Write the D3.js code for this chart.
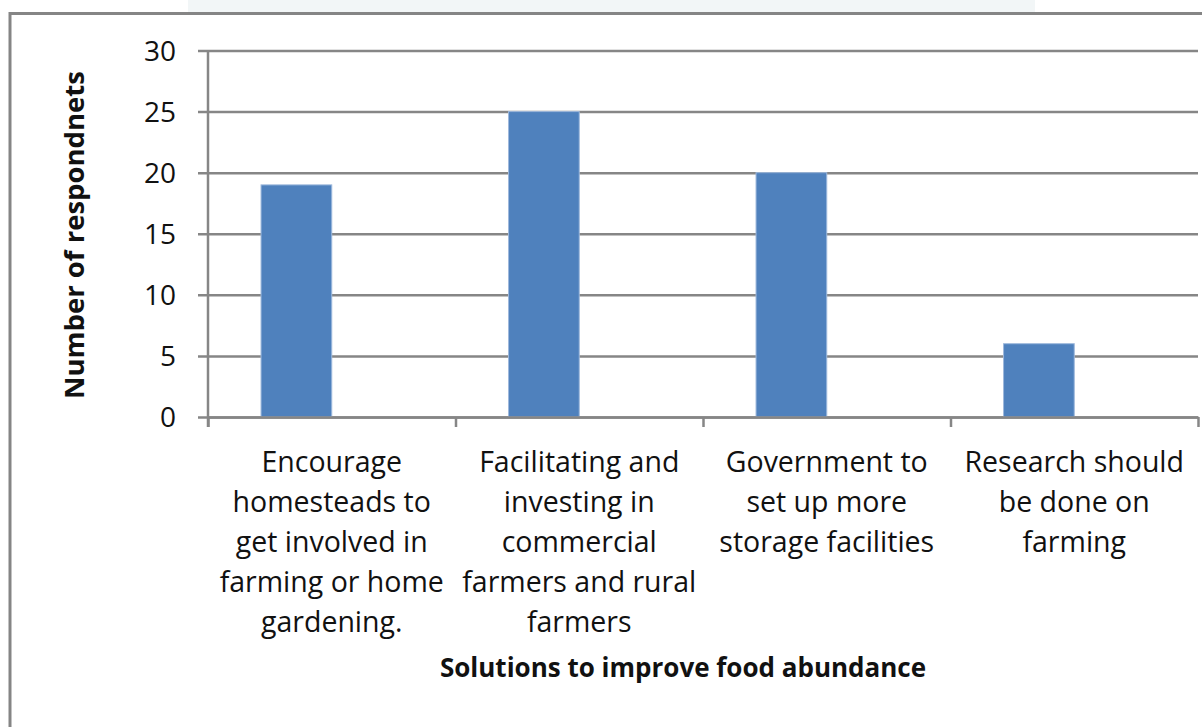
<!DOCTYPE html>
<html>
<head>
<meta charset="utf-8">
<script src="https://cdn.jsdelivr.net/npm/d3@7"></script>
<style>
  html, body { margin: 0; padding: 0; background: #fff; }
  svg { display: block; }
  text { font-family: "Open Sans", Lato, sans-serif; fill: #111; }
</style>
</head>
<body>
<script>
// Survey responses: suggested solutions to improve food abundance
const categories = [
  ["Encourage", "homesteads to", "get involved in", "farming or home", "gardening."],
  ["Facilitating and", "investing in", "commercial", "farmers and rural", "farmers"],
  ["Government to", "set up more", "storage facilities"],
  ["Research should", "be done on", "farming"]
];
const respondents = [19, 25, 20, 6];
const yTicks = [0, 5, 10, 15, 20, 25, 30];
const seriesSlots = ["respondents", "blank"];

const W = 1202, H = 727;
const plot = { left: 208, right: 1198, top: 50.5, bottom: 417 };
const gridColor = "#868686";
const fontFamily = "'Open Sans', Lato, sans-serif";

const svg = d3.select("body").append("svg")
  .attr("width", W).attr("height", H);

svg.append("rect").attr("width", W).attr("height", H).attr("fill", "#fff");

// light strip along the top edge and the surrounding frame
svg.append("rect")
  .attr("x", 188).attr("y", 0).attr("width", 847).attr("height", 12)
  .attr("fill", "#f2f6f7");
svg.append("path")
  .attr("d", `M10,${H} V13.5 H${W}`)
  .attr("fill", "none").attr("stroke", "#858585").attr("stroke-width", 3);

const x = d3.scaleBand()
  .domain(d3.range(categories.length))
  .range([plot.left, plot.right])
  .paddingInner(0).paddingOuter(0);

// two series slots per category (second left empty), 150% gap width
const xInner = d3.scaleBand()
  .domain(seriesSlots)
  .range([0, x.bandwidth()])
  .paddingInner(0).paddingOuter(0.75);

const y = d3.scaleLinear().domain([0, 30]).range([plot.bottom, plot.top]);

// horizontal gridlines with tick marks
const yAxis = svg.append("g")
  .attr("transform", `translate(${plot.left},0)`)
  .call(d3.axisLeft(y).tickValues(yTicks).tickSize(10).tickPadding(22)
        .tickSizeOuter(0));
yAxis.select(".domain").remove();
yAxis.selectAll(".tick line").attr("stroke", gridColor).attr("stroke-width", 2.5)
  .attr("x1", -10).attr("x2", plot.right - plot.left);
yAxis.selectAll(".tick text")
  .attr("font-size", 28).attr("dy", "0.35em").style("font-family", fontFamily)
  .attr("fill", "#111");

// bars
svg.append("g").selectAll("rect")
  .data(respondents)
  .join("rect")
  .attr("x", (d, i) => x(i) + xInner("respondents"))
  .attr("width", xInner.bandwidth())
  .attr("y", d => y(d))
  .attr("height", d => y(0) - y(d))
  .attr("fill", "#4f81bd")
  .attr("stroke", "#9db8dc")
  .attr("stroke-width", 1);

// vertical axis line
svg.append("line")
  .attr("x1", plot.left).attr("x2", plot.left)
  .attr("y1", plot.top).attr("y2", plot.bottom + 10)
  .attr("stroke", gridColor).attr("stroke-width", 2.5);

// category axis with boundary ticks
const xAxisScale = d3.scaleLinear().domain([0, categories.length])
  .range([plot.left, plot.right]);
const xAxis = svg.append("g")
  .attr("transform", `translate(0,${plot.bottom})`)
  .call(d3.axisBottom(xAxisScale).tickValues(d3.range(categories.length + 1))
        .tickSize(10).tickSizeOuter(0).tickFormat(""));
xAxis.select(".domain").attr("stroke", gridColor).attr("stroke-width", 2.5);
xAxis.selectAll(".tick line").attr("stroke", gridColor).attr("stroke-width", 2.5);

// wrapped category labels
const labels = svg.append("g").selectAll("text")
  .data(categories)
  .join("text")
  .attr("x", (d, i) => x(i) + x.bandwidth() / 2)
  .attr("y", 472)
  .attr("text-anchor", "middle")
  .attr("font-size", 28.5);
labels.selectAll("tspan")
  .data(d => d)
  .join("tspan")
  .attr("x", function () { return this.parentNode.getAttribute("x"); })
  .attr("dy", (d, i) => i === 0 ? 0 : 40)
  .text(d => d);

// axis titles
svg.append("text")
  .attr("x", 683).attr("y", 677)
  .attr("text-anchor", "middle")
  .attr("font-size", 26).attr("font-weight", "bold")
  .text("Solutions to improve food abundance");

svg.append("text")
  .attr("transform", "translate(84,235) rotate(-90)")
  .attr("text-anchor", "middle")
  .attr("font-size", 27.5).attr("font-weight", "bold")
  .text("Number of respondnets");
</script>
</body>
</html>
